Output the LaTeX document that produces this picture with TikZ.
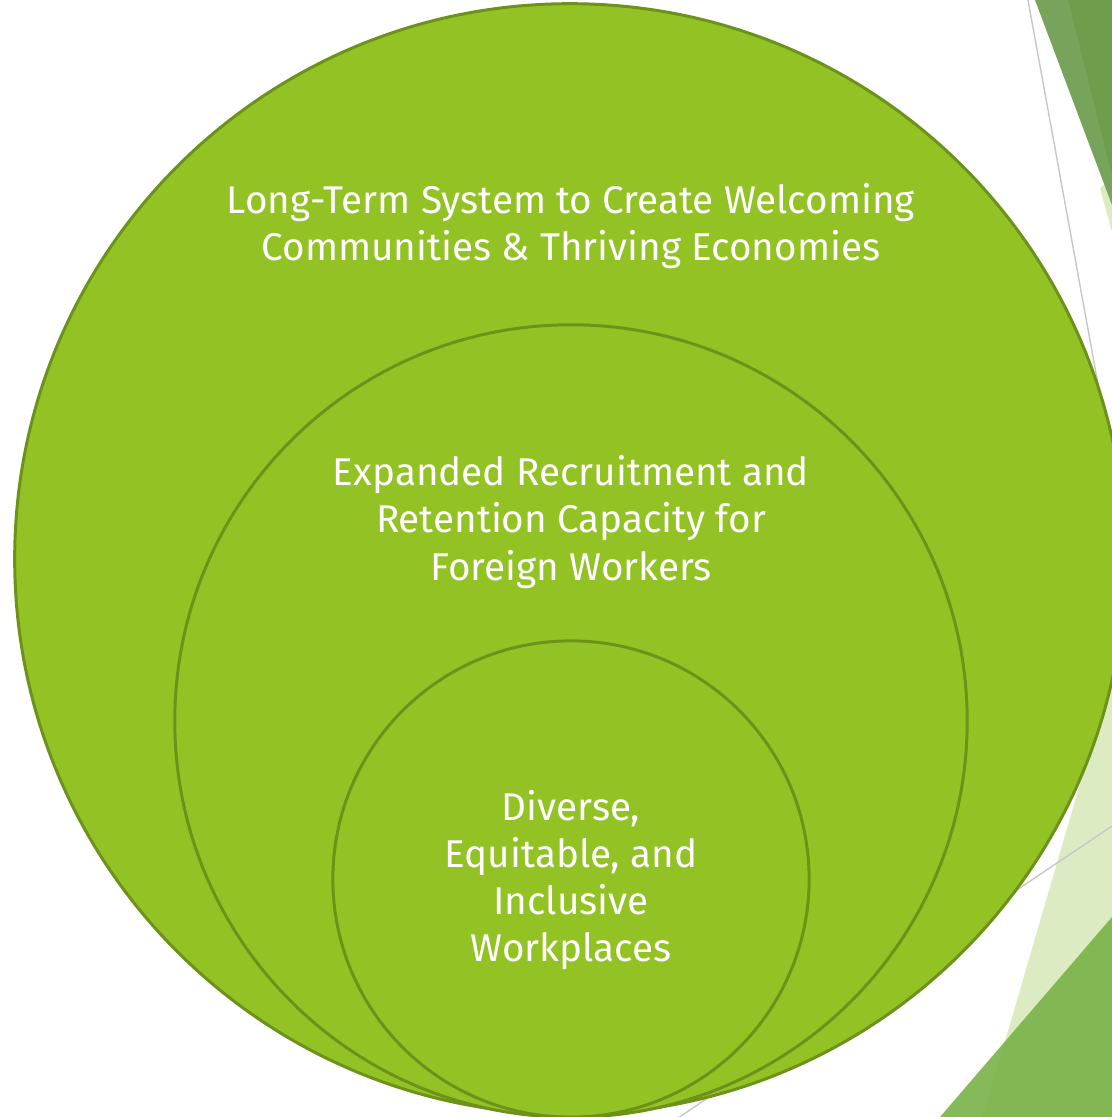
\documentclass[tikz,border=0pt]{standalone}
\usepackage{fontspec}
\setmainfont{Fira Sans}
\definecolor{ringfill}{HTML}{93C225}
\definecolor{ringline}{HTML}{6C9219}
\definecolor{facetdark}{HTML}{6E9E4B}
\definecolor{facetmid}{HTML}{77A35A}
\definecolor{facetpale}{HTML}{DDEBC3}
\definecolor{facetleaf}{HTML}{7BB34B}
\begin{document}
\begin{tikzpicture}[x=0.01cm,y=-0.01cm]

\tikzset{ring/.style={circle,draw=ringline,line width=0.85pt,fill=ringfill,inner sep=0pt}}
\tikzset{caption/.style={text=white,align=center,font=\fontsize{11}{13.4}\selectfont}}
\tikzset{hair/.style={draw=black!22,line width=0.4pt}}

\useasboundingbox (0,0) rectangle (1112,1117);
\clip (0,0) rectangle (1112,1117);

% background facets
\fill[facetpale] (1100,188) -- (1112,178) -- (1112,232) -- cycle;
\fill[facetpale] (1112,674) -- (1112,1117) -- (983,1117) -- cycle;
\fill[facetmid] (1035,0) -- (1112,0) -- (1112,205) -- cycle;
\fill[facetdark] (1068,0) -- (1112,0) -- (1112,175) -- cycle;
\fill[facetleaf,opacity=0.92] (1112,917) -- (1112,1117) -- (940,1117) -- cycle;

\coordinate (h1) at (1028,0);
\coordinate (h2) at (1110,450);
\coordinate (h3) at (1112,826);
\coordinate (h4) at (672,1122);
\path[hair] (h1) to (h2);
\path[hair] (h3) to (h4);

% rings
\node[ring,minimum size=11.1cm] (outer) at (570,559) {};
\node[ring,minimum size=7.92cm] (middle) at (571,721) {};
\node[ring,minimum size=4.76cm] (inner) at (571,879) {};

\node[caption] (t1) at (571,226) {Long-Term System to Create Welcoming\\Communities \& Thriving Economies};
\node[caption] (t2) at (571,522) {Expanded Recruitment and\\Retention Capacity for\\Foreign Workers};
\node[caption] (t3) at (571,880) {Diverse,\\Equitable, and\\Inclusive\\Workplaces};

\end{tikzpicture}
\end{document}
